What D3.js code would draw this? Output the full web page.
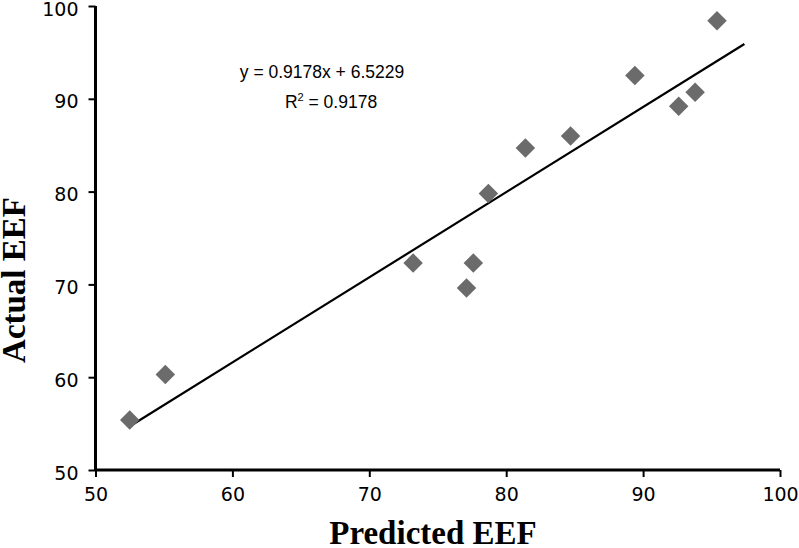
<!DOCTYPE html>
<html>
<head>
<meta charset="utf-8">
<script src="https://cdn.jsdelivr.net/npm/d3@7"></script>
<style>
  html, body { margin: 0; padding: 0; background: #fff; }
  svg { display: block; }
</style>
</head>
<body>
<svg id="chart" width="799" height="548"></svg>
<script>
// Data
const predicted = [52.5, 55.1, 73.2, 77.1, 77.6, 78.7, 81.4, 84.7, 89.4, 92.6, 93.8, 95.4];
const actual    = [55.4, 60.3, 72.3, 69.6, 72.3, 79.8, 84.7, 86.0, 92.5, 89.2, 90.7, 98.4];
const trendX = [52.6, 97.4];
const trendY = [54.8, 95.9];
const xTicks = [50, 60, 70, 80, 90, 100];
const yTicks = [50, 60, 70, 80, 90, 100];
const equationText = "y = 0.9178x + 6.5229";
const r2Value = "= 0.9178";
const xTitle = "Predicted EEF";
const yTitle = "Actual EEF";

const svg = d3.select("#chart");
const x = d3.scaleLinear().domain([50, 100]).range([95.5, 780]);
const y = d3.scaleLinear().domain([50, 100]).range([470, 6]);

const tickFont = "'DejaVu Sans', Verdana, sans-serif";

// X axis
const xAxis = svg.append("g")
  .attr("transform", `translate(0,${y(50)})`)
  .call(d3.axisBottom(x).tickValues(xTicks).tickSize(7).tickPadding(8).tickFormat(d3.format("d")));
xAxis.select(".domain").attr("stroke", "#000").attr("stroke-width", 3).attr("d", `M${x(50)},0H${x(100)}`);
xAxis.selectAll(".tick line").attr("stroke", "#000").attr("stroke-width", 2);
xAxis.selectAll(".tick text").attr("font-family", tickFont).attr("font-size", 19).attr("fill", "#000").attr("dy", "0.85em");

// Y axis
const yAxis = svg.append("g")
  .attr("transform", `translate(${x(50)},0)`)
  .call(d3.axisLeft(y).tickValues(yTicks).tickSize(7).tickPadding(10).tickFormat(d3.format("d")));
yAxis.select(".domain").attr("stroke", "#000").attr("stroke-width", 3).attr("d", `M0,${y(50)}V${y(100)}`);
yAxis.selectAll(".tick line").attr("stroke", "#000").attr("stroke-width", 2);
yAxis.selectAll(".tick text").attr("font-family", tickFont).attr("font-size", 19).attr("fill", "#000").attr("dy", "9px");

// Trend line
const line = d3.line().x(d => x(d[0])).y(d => y(d[1]));
svg.append("path")
  .datum(trendX.map((v, i) => [v, trendY[i]]))
  .attr("d", line)
  .attr("fill", "none")
  .attr("stroke", "#000")
  .attr("stroke-width", 2.2);

// Points (diamonds)
const diamond = d3.symbol().type(d3.symbolSquare).size(190);
svg.append("g").selectAll("path")
  .data(predicted.map((v, i) => [v, actual[i]]))
  .join("path")
  .attr("d", diamond)
  .attr("transform", d => `translate(${x(d[0])},${y(d[1])}) rotate(45)`)
  .attr("fill", "#6b6b6b");

// Equation text
const eqFont = "'Liberation Sans', Arial, sans-serif";
svg.append("text")
  .attr("x", 322).attr("y", 78)
  .attr("text-anchor", "middle")
  .attr("font-family", eqFont).attr("font-size", 17.5).attr("fill", "#000")
  .text(equationText);
const r2 = svg.append("text")
  .attr("x", 331).attr("y", 108)
  .attr("text-anchor", "middle")
  .attr("font-family", eqFont).attr("font-size", 17.5).attr("fill", "#000");
r2.append("tspan").text("R");
r2.append("tspan").attr("dy", -7).attr("font-size", 11).text("2");
r2.append("tspan").attr("dy", 7).text(" " + r2Value);

// Axis titles
const titleFont = "'Liberation Serif', 'Times New Roman', serif";
svg.append("text")
  .attr("x", 433).attr("y", 544)
  .attr("text-anchor", "middle")
  .attr("font-family", titleFont).attr("font-weight", "bold").attr("font-size", 33).attr("fill", "#000")
  .text(xTitle);
svg.append("text")
  .attr("transform", "translate(25,280) rotate(-90)")
  .attr("text-anchor", "middle")
  .attr("font-family", titleFont).attr("font-weight", "bold").attr("font-size", 33).attr("fill", "#000")
  .text(yTitle);
</script>
</body>
</html>
